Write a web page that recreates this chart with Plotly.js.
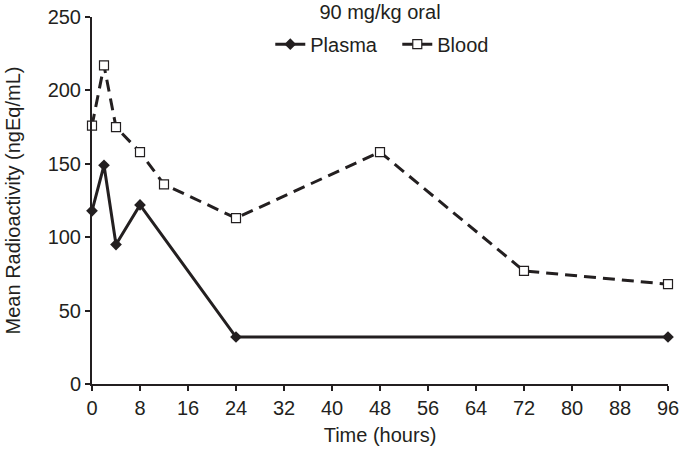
<!DOCTYPE html>
<html>
<head>
<meta charset="utf-8">
<script src="https://cdn.plot.ly/plotly-3.0.1.min.js"></script>
<style>html,body{margin:0;padding:0;background:#fff;}#chart{width:680px;height:453px;}</style>
</head>
<body>
<div id="chart"></div>
<script>
const plasmaTime = [0, 2, 4, 8, 24, 96];
const plasmaValues = [118, 149, 95, 122, 32, 32];
const bloodTime = [0, 2, 4, 8, 12, 24, 48, 72, 96];
const bloodValues = [176, 217, 175, 158, 136, 113, 158, 77, 68];
const xTicks = [0, 8, 16, 24, 32, 40, 48, 56, 64, 72, 80, 88, 96];
const yTicks = [0, 50, 100, 150, 200, 250];

const ink = '#231f20';
const font = {family: 'Liberation Sans, Arial, sans-serif', size: 20, color: ink};

const traces = [
  {
    x: plasmaTime, y: plasmaValues, name: 'Plasma', mode: 'lines+markers',
    line: {color: ink, width: 3},
    marker: {symbol: 'diamond', size: 9, color: ink},
    cliponaxis: false
  },
  {
    x: bloodTime, y: bloodValues, name: 'Blood', mode: 'lines+markers',
    line: {color: ink, width: 3, dash: '12px,7px'},
    marker: {symbol: 'square', size: 9, color: '#ffffff', line: {color: ink, width: 1.2}},
    cliponaxis: false
  }
];

const layout = {
  width: 680, height: 453,
  margin: {l: 92, r: 12, t: 17, b: 69},
  paper_bgcolor: '#fff', plot_bgcolor: '#fff',
  font: font,
  showlegend: true,
  title: {text: '90 mg/kg oral', x: 0.5, xref: 'paper', xanchor: 'center', y: 0.973, yanchor: 'middle', font: font},
  legend: {orientation: 'h', x: 0.53, xanchor: 'center', y: 0.926, yanchor: 'middle', font: font, bgcolor: 'rgba(0,0,0,0)', entrywidth: 82, entrywidthmode: 'pixels'},
  xaxis: {
    range: [0, 96], tickmode: 'array', tickvals: xTicks, ticktext: xTicks.map(String),
    showgrid: false, zeroline: false, showline: true, linecolor: ink, linewidth: 2,
    ticks: 'outside', ticklen: 5, tickwidth: 2, tickcolor: ink,
    title: {text: 'Time (hours)', font: font, standoff: 10},
    tickfont: font, fixedrange: true
  },
  yaxis: {
    range: [0, 250], tickmode: 'array', tickvals: yTicks, ticktext: yTicks.map(String),
    showgrid: false, zeroline: false, showline: true, linecolor: ink, linewidth: 2,
    ticks: 'outside', ticklen: 5, tickwidth: 2, tickcolor: ink,
    title: {text: 'Mean Radioactivity (ngEq/mL)', font: font, standoff: 22},
    tickfont: font, fixedrange: true
  }
};

Plotly.newPlot('chart', traces, layout, {displayModeBar: false, staticPlot: true});
</script>
</body>
</html>
